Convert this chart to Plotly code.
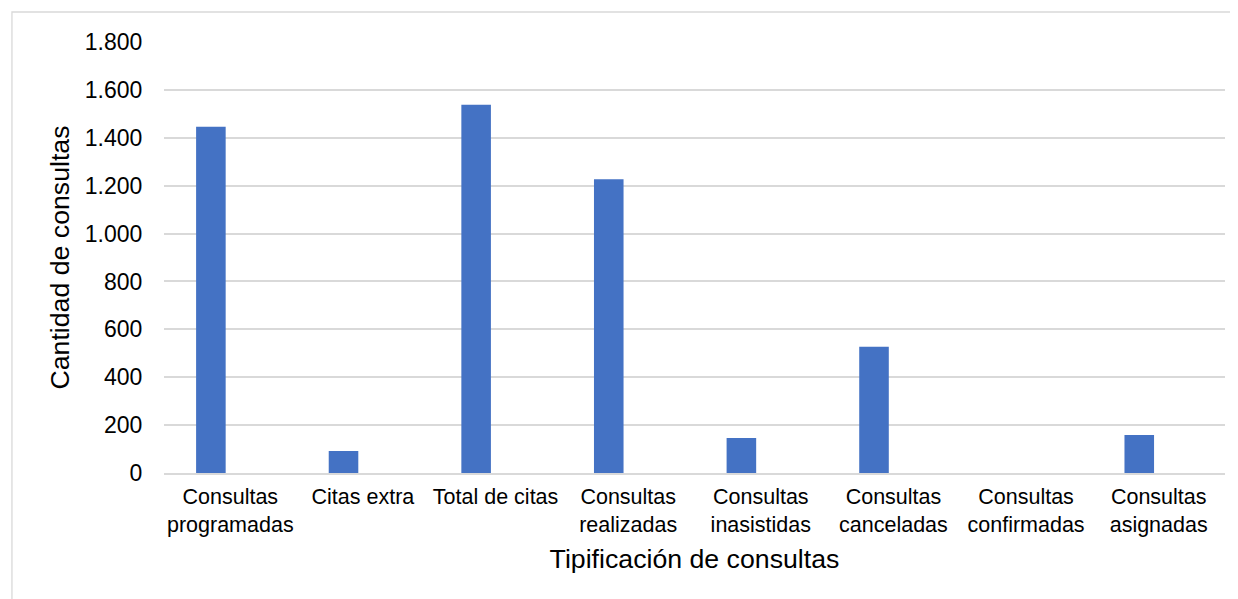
import plotly.graph_objects as go

categorias = ["Consultas<br>programadas", "Citas extra", "Total de citas", "Consultas<br>realizadas",
              "Consultas<br>inasistidas", "Consultas<br>canceladas", "Consultas<br>confirmadas",
              "Consultas<br>asignadas"]
cantidades = [1446, 92, 1538, 1227, 146, 527, 0, 159]
ticks_y = [0, 200, 400, 600, 800, 1000, 1200, 1400, 1600, 1800]

fig = go.Figure()
# en el original las barras quedan corridas a la izquierda de la etiqueta
fig.add_trace(go.Bar(x=categorias, y=cantidades, marker_color="#4472c4", marker_line_width=0,
                     width=0.223, offset=-0.258))

# la pagina html deja 8px de margen, por eso ancho/alto menores
fig.update_layout(
    width=1230, height=591,
    margin=dict(l=156, r=13, t=34, b=126, autoexpand=False),
    paper_bgcolor="white", plot_bgcolor="white",
    separators=",.",
    font=dict(family="Liberation Sans, Arial, sans-serif", color="#000000"),
    showlegend=False,
)
fig.update_xaxes(
    title=dict(text="Tipificación de consultas", font=dict(size=26.7), standoff=14),
    tickfont=dict(size=21.5),
    ticks="outside", ticklen=3, tickcolor="rgba(0,0,0,0)",
    showline=True, linecolor="#d9d9d9", linewidth=1.5,
)
fig.update_yaxes(
    title=dict(text="Cantidad de consultas", font=dict(size=26.7), standoff=7),
    tickfont=dict(size=23),
    range=[0, 1800], tickvals=ticks_y, tickformat=",d",
    ticks="outside", ticklen=16, tickcolor="rgba(0,0,0,0)",
    showgrid=True, gridcolor="#d9d9d9", gridwidth=1.5,
    zeroline=False, showline=False,
)
fig.add_shape(type="rect", xref="paper", yref="paper",
              x0=-0.1433, x1=1.05, y0=-0.5, y1=1.0696,
              line=dict(color="#d9d9d9", width=1.3), fillcolor="rgba(0,0,0,0)", layer="below")

fig.write_html("out.html")
